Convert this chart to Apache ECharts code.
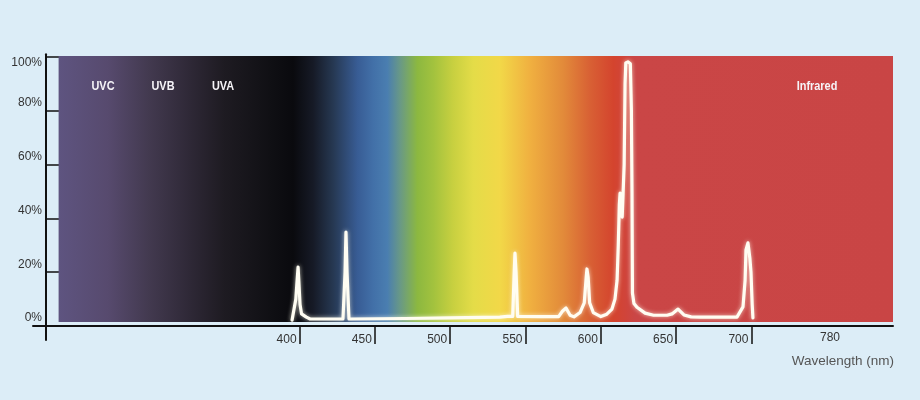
<!DOCTYPE html>
<html>
<head>
<meta charset="utf-8">
<script src="https://cdn.jsdelivr.net/npm/echarts@6/dist/echarts.min.js"></script>
<style>
  html, body { margin: 0; padding: 0; background: #dcedf7; }
  #chart { width: 920px; height: 400px; }
</style>
</head>
<body>
<div id="chart"></div>
<script>
// Tick labels
const xTicks = [400, 450, 500, 550, 600, 650, 700];
const yTicks = [0, 20, 40, 60, 80, 100];
// Region names
const regionNames = ['UVC', 'UVB', 'UVA', 'Infrared'];
const extraLabel = '780';
const axisTitle = 'Wavelength (nm)';
// Spectrum: wavelength (nm)
const wavelength = [
  395.0, 397.5, 399.0, 400.3, 401.3, 402.5, 404.5, 407, 428.8, 430.2, 430.8, 431.5, 432.8,
  470, 500, 533, 538, 541.5, 542.5, 543.0, 543.7, 544.8, 560, 572, 574.5, 576.9, 579.6,
  582.2, 586.2, 589.0, 590.3, 590.8, 591.6, 592.6, 595, 600, 604, 607.4, 609.4, 610.8,
  611.6, 612.3, 612.8, 613.8, 614.2, 614.8, 615.5, 616.1, 616.6, 618.0, 619.6, 620.3,
  620.7, 621.0, 622.0, 624.0, 629.4, 635, 644.0, 647.3, 651.3, 655.2, 660, 666, 690.4,
  694.4, 695.8, 696.4, 697.7, 699.0, 699.7, 700.5, 701.0
];
// Relative intensity (%)
const intensity = [
  2.2, 10, 21.9, 8, 4.5, 4.8, 3.3, 2.6, 2.6, 20, 34.9, 20, 2.6,
  2.8, 3.0, 3.3, 3.6, 3.6, 20, 27.1, 20, 3.6, 3.5, 3.5, 5.5, 6.7, 4.0,
  3.4, 5.0, 8.6, 18, 21.2, 18, 8.6, 5.0, 3.5, 4.4, 6.3, 10.0, 17,
  30, 45, 49.4, 48.5, 40.5, 41, 60, 90, 97.8, 98.2, 97.5, 80,
  50, 12.3, 8.4, 7.0, 4.8, 4.0, 4.0, 4.5, 6.3, 4.1, 3.4, 3.3, 3.3,
  7.1, 17, 28.3, 30.9, 25, 20, 8, 3.0
];

const spectrum = wavelength.map((w, i) => [w, intensity[i]]);

const chart = echarts.init(document.getElementById('chart'), null, { renderer: 'canvas' });

const bandGradient = new echarts.graphic.LinearGradient(0, 0, 1, 0, [
  { offset: 0.000, color: '#5e5480' },
  { offset: 0.059, color: '#574a6e' },
  { offset: 0.107, color: '#433a50' },
  { offset: 0.158, color: '#2e2836' },
  { offset: 0.198, color: '#1e1b22' },
  { offset: 0.257, color: '#0f0f13' },
  { offset: 0.281, color: '#0a0a0e' },
  { offset: 0.305, color: '#161a26' },
  { offset: 0.329, color: '#263852' },
  { offset: 0.358, color: '#385c94' },
  { offset: 0.377, color: '#4270a8' },
  { offset: 0.394, color: '#4a7eb0' },
  { offset: 0.410, color: '#6a9a84' },
  { offset: 0.430, color: '#8cb840' },
  { offset: 0.449, color: '#a2c23e' },
  { offset: 0.473, color: '#c8d040' },
  { offset: 0.497, color: '#e4dc48' },
  { offset: 0.529, color: '#f2d848' },
  { offset: 0.565, color: '#f0b040' },
  { offset: 0.605, color: '#e28a3a' },
  { offset: 0.637, color: '#d86034' },
  { offset: 0.665, color: '#d4442e' },
  { offset: 0.679, color: '#d0443a' },
  { offset: 0.691, color: '#ca4646' },
  { offset: 1.000, color: '#c94545' }
]);

const font = '"Liberation Sans", Arial, sans-serif';

const option = {
  backgroundColor: '#dcedf7',
  animation: false,
  grid: { left: 33, right: 27, top: 54.3, bottom: 60 },
  xAxis: {
    type: 'value',
    min: 223,
    max: 794,
    splitLine: { show: false },
    axisLine: { show: true, onZero: true, lineStyle: { color: '#111', width: 2 } },
    axisTick: { show: true, customValues: xTicks, length: 18, lineStyle: { color: '#111', width: 1.5 } },
    axisLabel: {
      customValues: xTicks,
      align: 'right',
      padding: [0, 3, 0, 0],
      margin: -6.5,
      color: '#333',
      fontSize: 12,
      fontFamily: font
    },
    name: axisTitle,
    nameLocation: 'end',
    nameGap: 1,
    nameTextStyle: {
      align: 'right',
      verticalAlign: 'top',
      padding: [28, 0, 0, 0],
      color: '#555',
      fontSize: 13.5,
      fontFamily: font
    }
  },
  yAxis: {
    type: 'value',
    min: -5.2,
    max: 101,
    offset: -13,
    splitLine: { show: false },
    axisLine: { show: true, onZero: false, lineStyle: { color: '#111', width: 2 } },
    axisTick: { show: true, inside: true, customValues: [20, 40, 60, 80, 100], length: 14, lineStyle: { color: '#111', width: 1.5 } },
    axisLabel: {
      customValues: yTicks,
      margin: 4,
      color: '#333',
      fontSize: 12,
      fontFamily: font,
      formatter: v => v === 100 ? '{t|' + v + '%}' : '{n|' + v + '%}',
      rich: {
        t: { padding: [12, 0, 0, 0], color: '#333', fontSize: 12, fontFamily: font },
        n: { padding: [0, 0, 16, 0], color: '#333', fontSize: 12, fontFamily: font }
      }
    }
  },
  series: [
    {
      type: 'line',
      data: [],
      z: 1,
      silent: true,
      markArea: {
        silent: true,
        itemStyle: { color: bandGradient },
        data: [[{ coord: [240, 1.5] }, { coord: [794, 100.4] }]]
      }
    },
    {
      type: 'line',
      z: 3,
      data: spectrum,
      showSymbol: false,
      smooth: false,
      lineStyle: {
        color: '#fffdf2',
        width: 3.2,
        shadowBlur: 4,
        shadowColor: 'rgba(255,255,240,0.7)',
        join: 'round',
        cap: 'round'
      }
    }
  ]
};

// Region labels (condensed bold) and the extra axis label as text elements
const regionX = [103, 163, 223, 817];
option.graphic = regionNames.map((name, i) => ({
  type: 'text',
  x: regionX[i],
  y: 86,
  scaleX: 0.84,
  z: 10,
  style: {
    text: name,
    fill: '#f6f4f8',
    font: 'bold 13px ' + font,
    align: 'center',
    verticalAlign: 'middle'
  }
}));
option.graphic.push({
  type: 'text',
  x: 830,
  y: 337.5,
  z: 10,
  style: {
    text: extraLabel,
    fill: '#333',
    font: '12px ' + font,
    align: 'center',
    verticalAlign: 'middle'
  }
});

chart.setOption(option);
</script>
</body>
</html>
